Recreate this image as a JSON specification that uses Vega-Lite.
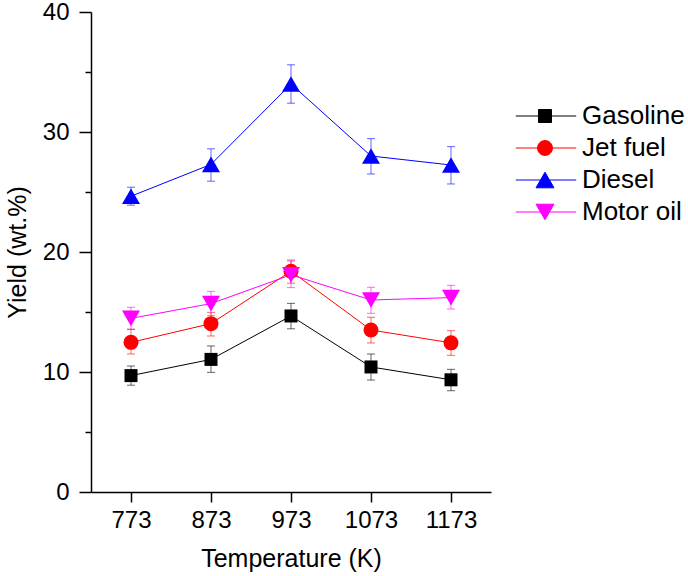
{
  "$schema": "https://vega.github.io/schema/vega-lite/v6.json",
  "width": 400,
  "height": 480,
  "autosize": {"type": "none"},
  "padding": {"left": 91, "top": 12, "right": 197, "bottom": 84},
  "background": "white",
  "config": {
    "view": {"stroke": null},
    "font": "Liberation Sans",
    "axis": {
      "grid": false,
      "domainColor": "black",
      "domainWidth": 1.5,
      "tickColor": "black",
      "tickWidth": 1.5,
      "labelFont": "Liberation Sans",
      "labelFontSize": 24,
      "labelColor": "black",
      "titleFont": "Liberation Sans",
      "titleFontSize": 25,
      "titleFontWeight": "normal",
      "titleColor": "black"
    }
  },
  "data": {
    "values": [
      {"T": 773, "s": "Gasoline", "y": 9.7, "lo": 8.9, "hi": 10.5},
      {"T": 873, "s": "Gasoline", "y": 11.05, "lo": 9.97, "hi": 12.17},
      {"T": 973, "s": "Gasoline", "y": 14.67, "lo": 13.6, "hi": 15.72},
      {"T": 1073, "s": "Gasoline", "y": 10.42, "lo": 9.33, "hi": 11.5},
      {"T": 1173, "s": "Gasoline", "y": 9.35, "lo": 8.44, "hi": 10.22},
      {"T": 773, "s": "Jet fuel", "y": 12.47, "lo": 11.5, "hi": 13.56},
      {"T": 873, "s": "Jet fuel", "y": 14.03, "lo": 13.0, "hi": 14.97},
      {"T": 973, "s": "Jet fuel", "y": 18.4, "lo": 17.4, "hi": 19.33},
      {"T": 1073, "s": "Jet fuel", "y": 13.5, "lo": 12.42, "hi": 14.56},
      {"T": 1173, "s": "Jet fuel", "y": 12.43, "lo": 11.39, "hi": 13.44},
      {"T": 773, "s": "Diesel", "y": 24.65, "lo": 23.9, "hi": 25.4},
      {"T": 873, "s": "Diesel", "y": 27.3, "lo": 25.9, "hi": 28.6},
      {"T": 973, "s": "Diesel", "y": 34.0, "lo": 32.4, "hi": 35.6},
      {"T": 1073, "s": "Diesel", "y": 28.0, "lo": 26.5, "hi": 29.45},
      {"T": 1173, "s": "Diesel", "y": 27.25, "lo": 25.67, "hi": 28.78},
      {"T": 773, "s": "Motor oil", "y": 14.47, "lo": 13.56, "hi": 15.39},
      {"T": 873, "s": "Motor oil", "y": 15.7, "lo": 14.7, "hi": 16.72},
      {"T": 973, "s": "Motor oil", "y": 18.1, "lo": 17.03, "hi": 19.25},
      {"T": 1073, "s": "Motor oil", "y": 16.0, "lo": 14.89, "hi": 17.06},
      {"T": 1173, "s": "Motor oil", "y": 16.2, "lo": 15.25, "hi": 17.22}
    ]
  },
  "encoding": {
    "x": {
      "field": "T",
      "type": "quantitative",
      "scale": {"domain": [723, 1223], "nice": false, "zero": false},
      "axis": {
        "title": "Temperature (K)",
        "values": [773, 873, 973, 1073, 1173],
        "format": "d",
        "tickSize": 10,
        "labelPadding": 6,
        "titlePadding": 14
      }
    },
    "color": {
      "field": "s",
      "type": "nominal",
      "scale": {
        "domain": ["Gasoline", "Jet fuel", "Diesel", "Motor oil"],
        "range": ["#000000", "#ff0000", "#0000ff", "#ff00ff"]
      },
      "legend": {
        "orient": "none",
        "legendX": 441,
        "legendY": 91,
        "title": null,
        "padding": 0,
        "symbolSize": 169,
        "symbolStrokeWidth": 1,
        "labelFont": "Liberation Sans",
        "labelFontSize": 26,
        "labelColor": "black",
        "labelOffset": 24,
        "rowPadding": 6,
        "encoding": {
          "symbols": {
            "shape": {
              "condition": [
                {"test": "datum.value === 'Gasoline'", "value": "M-4.5,0H4.8M-1,-1H1V1H-1Z"},
                {"test": "datum.value === 'Jet fuel'", "value": "M-4.5,0H4.8M-1.15,0A1.15,1.15,0,1,1,1.15,0A1.15,1.15,0,1,1,-1.15,0Z"},
                {"test": "datum.value === 'Diesel'", "value": "M-4.5,0H4.8M0,-1.2L1.38,1.2L-1.38,1.2Z"}
              ],
              "value": "M-4.5,0H4.8M0,1.2L1.38,-1.2L-1.38,-1.2Z"
            },
            "strokeWidth": {"value": 1},
            "opacity": {"value": 1}
          }
        }
      }
    }
  },
  "layer": [
    {
      "mark": {"type": "rule", "strokeWidth": 1, "opacity": 0.6},
      "encoding": {
        "y": {
          "field": "lo",
          "type": "quantitative",
          "scale": {"domain": [0, 40], "nice": false},
          "title": "Yield (wt.%)",
          "axis": {
            "values": [0, 5, 10, 15, 20, 25, 30, 35, 40],
            "labelExpr": "datum.value % 10 === 0 ? datum.label : ''",
            "tickSize": {"condition": {"test": "datum.value % 10 === 0", "value": 12}, "value": 6},
            "labelPadding": 10,
            "titlePadding": 12
          }
        },
        "y2": {"field": "hi"}
      }
    },
    {
      "mark": {"type": "tick", "orient": "horizontal", "size": 8, "thickness": 1, "opacity": 0.6},
      "encoding": {"y": {"field": "lo", "type": "quantitative", "title": "Yield (wt.%)"}}
    },
    {
      "mark": {"type": "tick", "orient": "horizontal", "size": 8, "thickness": 1, "opacity": 0.6},
      "encoding": {"y": {"field": "hi", "type": "quantitative", "title": "Yield (wt.%)"}}
    },
    {
      "mark": {"type": "line", "strokeWidth": 1},
      "encoding": {"y": {"field": "y", "type": "quantitative", "title": "Yield (wt.%)"}}
    },
    {
      "mark": {"type": "point", "filled": true, "opacity": 1},
      "encoding": {
        "y": {"field": "y", "type": "quantitative", "title": "Yield (wt.%)"},
        "shape": {
          "field": "s",
          "type": "nominal",
          "scale": {
            "domain": ["Diesel", "Gasoline", "Jet fuel", "Motor oil"],
            "range": ["triangle-up", "square", "circle", "triangle-down"]
          },
          "legend": null
        },
        "size": {
          "field": "s",
          "type": "nominal",
          "scale": {
            "type": "ordinal",
            "domain": ["Motor oil", "Diesel", "Jet fuel", "Gasoline"],
            "range": [324, 324, 225, 169]
          },
          "legend": null
        }
      }
    }
  ]
}
